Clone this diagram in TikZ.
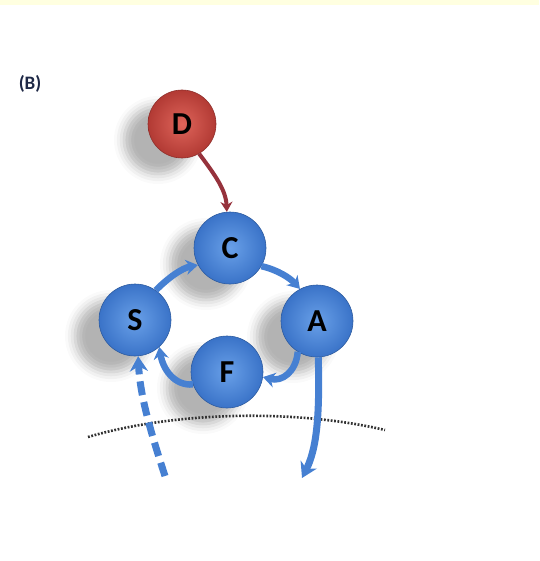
\documentclass[tikz,border=0pt]{standalone}
\usepackage{fontspec}
\setmainfont{Carlito}
\usetikzlibrary{arrows.meta,shadows.blur,shadings}
\definecolor{ballblueIn}{RGB}{105,160,232}
\definecolor{ballblueOut}{RGB}{58,115,200}
\definecolor{ballredIn}{RGB}{222,100,90}
\definecolor{ballredOut}{RGB}{178,58,52}
\definecolor{arrblue}{RGB}{70,128,210}
\definecolor{arrred}{RGB}{150,50,60}
\definecolor{topband}{RGB}{255,255,224}
\definecolor{labelnavy}{RGB}{30,40,70}
\tikzset{
  ball/.style={circle, minimum size=72pt, inner sep=0pt, draw=ballblueOut!80!black, line width=0.6pt,
    shading=radial, inner color=ballblueIn, outer color=ballblueOut,
    font=\bfseries\fontsize{32}{32}\selectfont, text=black,
    blur shadow={shadow xshift=-24pt, shadow yshift=-16pt, shadow blur radius=10pt, shadow opacity=30}},
  redball/.style={ball, minimum size=68pt, draw=ballredOut!80!black, inner color=ballredIn, outer color=ballredOut},
  cyc/.style={draw=arrblue, line width=6.5pt, -{Stealth[length=12pt,width=15pt]}},
  big/.style={draw=arrblue, line width=7pt, -{Stealth[length=15pt,width=18pt]}},
}
\begin{document}
\begin{tikzpicture}[x=1pt,y=-1pt]
\useasboundingbox (0,0) rectangle (539,561);
\fill[topband] (0,0) rectangle (539,5);
\node[font=\bfseries\fontsize{19}{19}\selectfont, text=labelnavy] (lab) at (30,84) {(B)};
\node[redball] (D) at (182,124) {D};
\node[ball] (C) at (230,248) {C};
\node[ball] (S) at (135,320) {S};
\node[ball] (A) at (317,321) {A};
\node[ball] (F) at (227,372) {F};
% dotted arc
\draw[black!80, line width=2.6pt, dash pattern=on 1.8pt off 1.6pt] (88,437) .. controls (180,410) and (300,410) .. (385,430);
% D -> C
\draw[draw=arrred, line width=4pt, -{Stealth[length=10pt,width=12pt]}] (D.-60) .. controls (215,175) and (226,190) .. (C.95);
% cycle
\draw[cyc] (S.55) .. controls (168,278) and (182,268) .. (C.208);
\draw[cyc] (C.-30) .. controls (278,270) and (290,278) .. (A.118);
\draw[cyc] (A.-122) .. controls (296,372) and (282,382) .. (F.-8);
\draw[cyc] (F.200) .. controls (175,386) and (163,370) .. (S.-48);
% dashed in-arrow
\draw[big, dash pattern=on 14pt off 7pt] (165,476) .. controls (150,430) and (140,395) .. (S.-85);
% solid out-arrow
\draw[big] (A.-88) .. controls (320,420) and (316,450) .. (302,478);
\end{tikzpicture}
\end{document}
